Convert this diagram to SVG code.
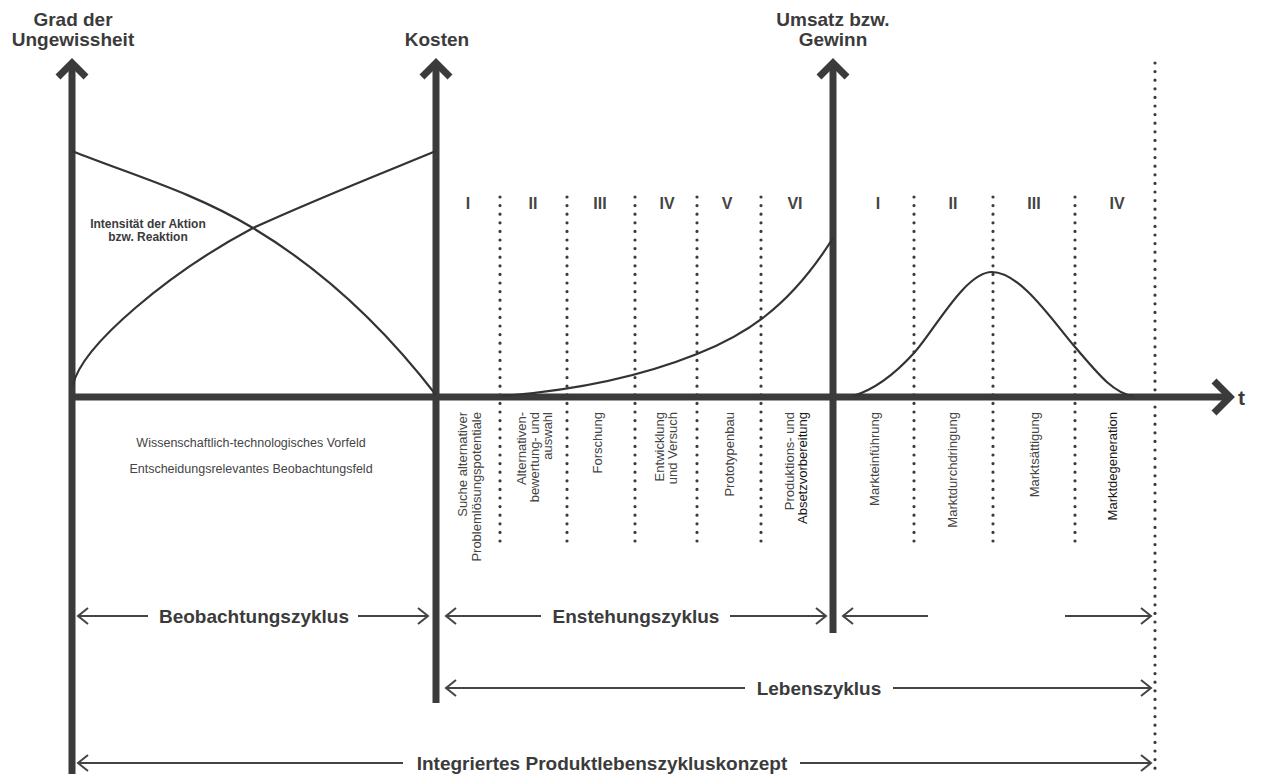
<svg xmlns="http://www.w3.org/2000/svg" width="1261" height="774" viewBox="0 0 1261 774">
<style>
.ax{stroke:#3b3b3b;stroke-width:7;fill:none}
.chev{stroke:#3b3b3b;stroke-width:7;fill:none;stroke-linejoin:miter;stroke-linecap:butt}
.dot{stroke:#3b3b3b;stroke-width:3.2;stroke-dasharray:0 8.6;stroke-linecap:round;fill:none}
.crv{stroke:#333;stroke-width:2.2;fill:none}
.thin{stroke:#444;stroke-width:2;fill:none}
.ah{stroke:#444;stroke-width:2;fill:none;stroke-linejoin:miter}
.ttl{font-family:"Liberation Sans",Arial,sans-serif;font-weight:bold;font-size:19px;fill:#3b3b3b;text-anchor:middle}
.rom{font-family:"Liberation Sans",Arial,sans-serif;font-weight:bold;font-size:16px;fill:#444;text-anchor:middle}
.vl{font-family:"Liberation Sans",Arial,sans-serif;font-size:13px;fill:#444;text-anchor:end}
.dk{fill:#161616}
.sm{font-family:"Liberation Sans",Arial,sans-serif;font-size:12.5px;fill:#444;text-anchor:middle}
.int{font-family:"Liberation Sans",Arial,sans-serif;font-weight:bold;font-size:12px;fill:#3b3b3b;text-anchor:middle}
.cyc{font-family:"Liberation Sans",Arial,sans-serif;font-weight:bold;font-size:19px;fill:#3b3b3b;text-anchor:middle}
</style>

<g id="axes">
  <line class="ax" x1="72" y1="63" x2="72" y2="774"/>
  <polyline class="chev" points="58,77 72,63 86,77"/>
  <line class="ax" x1="436" y1="63" x2="436" y2="703"/>
  <polyline class="chev" points="422,77 436,63 450,77"/>
  <line class="ax" x1="833" y1="63" x2="833" y2="633"/>
  <polyline class="chev" points="819,77 833,63 847,77"/>
  <line class="ax" x1="69" y1="397" x2="1226" y2="397"/>
  <polyline class="chev" points="1214,381 1230,397 1214,413"/>
</g>

<g id="dotted-lines">
  <line class="dot" x1="500" y1="197" x2="500" y2="548"/>
  <line class="dot" x1="567" y1="197" x2="567" y2="548"/>
  <line class="dot" x1="635" y1="197" x2="635" y2="548"/>
  <line class="dot" x1="697" y1="197" x2="697" y2="548"/>
  <line class="dot" x1="761" y1="197" x2="761" y2="548"/>
  <line class="dot" x1="914" y1="197" x2="914" y2="548"/>
  <line class="dot" x1="993" y1="197" x2="993" y2="548"/>
  <line class="dot" x1="1075" y1="197" x2="1075" y2="548"/>
  <line class="dot" x1="1155" y1="63" x2="1155" y2="774"/>
</g>

<g id="curves">
  <path class="crv" d="M72,151 C132,175 193,192 253,228 C314,264.6 375,316 436,395"/>
  <path class="crv" d="M73,385 C82,345 170,272 253,228 C314,200 375,176 436,151"/>
  <path class="crv" d="M502,396 C567,391 632,380 697,354 C742,336 788,310 833,238"/>
  <path class="crv" d="M853,396 C873,390 894,375 914,353 C934,331 965,272 992,272 C1020,272 1052,320 1075,347 C1095,370 1112,393 1133,396"/>
</g>

<g id="titles">
  <text class="ttl" x="73" y="26">Grad der</text>
  <text class="ttl" x="73" y="46">Ungewissheit</text>
  <text class="ttl" x="437" y="46">Kosten</text>
  <text class="ttl" x="833" y="26">Umsatz bzw.</text>
  <text class="ttl" x="833" y="46">Gewinn</text>
  <text x="1238" y="405" style="font-family:'Liberation Sans',Arial,sans-serif;font-size:21px;font-weight:bold;fill:#3b3b3b">t</text>
</g>

<g id="roman">
  <text class="rom" x="468" y="209">I</text>
  <text class="rom" x="533" y="209">II</text>
  <text class="rom" x="600" y="209">III</text>
  <text class="rom" x="667" y="209">IV</text>
  <text class="rom" x="727" y="209">V</text>
  <text class="rom" x="795" y="209">VI</text>
  <text class="rom" x="878" y="209">I</text>
  <text class="rom" x="953" y="209">II</text>
  <text class="rom" x="1034" y="209">III</text>
  <text class="rom" x="1117" y="209">IV</text>
</g>

<g id="intensity">
  <text class="int" x="148" y="228">Intensität der Aktion</text>
  <text class="int" x="148" y="241">bzw. Reaktion</text>
</g>

<g id="vorfeld">
  <text class="sm" x="251" y="447">Wissenschaftlich-technologisches Vorfeld</text>
  <text class="sm" x="251" y="473">Entscheidungsrelevantes Beobachtungsfeld</text>
</g>

<g id="phase-labels">
  <text class="vl" transform="translate(467,412) rotate(-90)"><tspan x="0" y="0">Suche alternativer</tspan><tspan x="0" y="14">Problemlösungspotentiale</tspan></text>
  <text class="vl" transform="translate(526,412) rotate(-90)"><tspan x="0" y="0">Alternativen-</tspan><tspan x="0" y="13">bewertung- und</tspan><tspan x="0" y="26">auswahl</tspan></text>
  <text class="vl" transform="translate(602,412) rotate(-90)">Forschung</text>
  <text class="vl" transform="translate(664,412) rotate(-90)"><tspan x="0" y="0">Entwicklung</tspan><tspan x="0" y="12.5">und Versuch</tspan></text>
  <text class="vl" transform="translate(734,412) rotate(-90)">Prototypenbau</text>
  <text class="vl" transform="translate(794,412) rotate(-90)"><tspan x="0" y="0">Produktions- und</tspan><tspan x="0" y="12.5" class="dk">Absetzvorbereitung</tspan></text>
  <text class="vl" transform="translate(879,412) rotate(-90)">Markteinführung</text>
  <text class="vl" transform="translate(957,412) rotate(-90)">Marktdurchdringung</text>
  <text class="vl" transform="translate(1039,412) rotate(-90)">Marktsättigung</text>
  <text class="vl dk" transform="translate(1117,412) rotate(-90)">Marktdegeneration</text>
</g>

<g id="connectors">
  <line class="thin" x1="78" y1="616" x2="148" y2="616"/>
  <polyline class="ah" points="88,608 78,616 88,624"/>
  <line class="thin" x1="358" y1="616" x2="428" y2="616"/>
  <polyline class="ah" points="418,608 428,616 418,624"/>
  <line class="thin" x1="446" y1="616" x2="541" y2="616"/>
  <polyline class="ah" points="456,608 446,616 456,624"/>
  <line class="thin" x1="730" y1="616" x2="826" y2="616"/>
  <polyline class="ah" points="816,608 826,616 816,624"/>
  <line class="thin" x1="843" y1="616" x2="928" y2="616"/>
  <polyline class="ah" points="853,608 843,616 853,624"/>
  <line class="thin" x1="1065" y1="616" x2="1151" y2="616"/>
  <polyline class="ah" points="1141,608 1151,616 1141,624"/>
  <line class="thin" x1="446" y1="688" x2="745" y2="688"/>
  <polyline class="ah" points="456,680 446,688 456,696"/>
  <line class="thin" x1="893" y1="688" x2="1151" y2="688"/>
  <polyline class="ah" points="1141,680 1151,688 1141,696"/>
  <line class="thin" x1="78" y1="763" x2="403" y2="763"/>
  <polyline class="ah" points="88,755 78,763 88,771"/>
  <line class="thin" x1="800" y1="763" x2="1151" y2="763"/>
  <polyline class="ah" points="1141,755 1151,763 1141,771"/>
</g>

<g id="cycle-labels">
  <text class="cyc" x="254" y="623">Beobachtungszyklus</text>
  <text class="cyc" x="636" y="623">Enstehungszyklus</text>
  <text class="cyc" x="819" y="695">Lebenszyklus</text>
  <text class="cyc" x="602" y="770">Integriertes Produktlebenszykluskonzept</text>
</g>
</svg>
